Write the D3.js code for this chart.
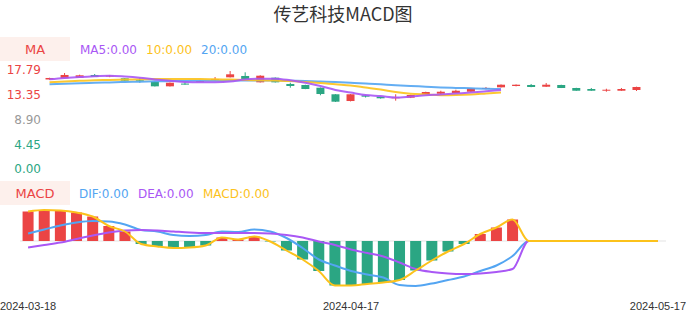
<!DOCTYPE html>
<html>
<head>
<meta charset="utf-8">
<script src="https://cdn.jsdelivr.net/npm/d3@7"></script>
<style>
  body { margin: 0; background: #fff; }
  svg { display: block; font-family: "DejaVu Sans", sans-serif; }
</style>
</head>
<body>
<svg id="chart" width="686" height="320"></svg>
<script>
// Trading days shown on the category axis
const dates = [
  '2024-03-18', '2024-03-19', '2024-03-20', '2024-03-21', '2024-03-22',
  '2024-03-25', '2024-03-26', '2024-03-27', '2024-03-28', '2024-03-29',
  '2024-04-01', '2024-04-02', '2024-04-03', '2024-04-08', '2024-04-09',
  '2024-04-10', '2024-04-11', '2024-04-12', '2024-04-15', '2024-04-16',
  '2024-04-17', '2024-04-18', '2024-04-19', '2024-04-22', '2024-04-23',
  '2024-04-24', '2024-04-25', '2024-04-26', '2024-04-29', '2024-04-30',
  '2024-05-06', '2024-05-07', '2024-05-08', '2024-05-09', '2024-05-10',
  '2024-05-13', '2024-05-14', '2024-05-15', '2024-05-16', '2024-05-17'
];
const xLabels = ['2024-03-18', '2024-04-17', '2024-05-17'];

// Candles
const opens = [16.14, 16.35, 16.46, 16.95, 16.80, 16.35, 16.00, 15.74, 14.91, 15.40,
  15.75, 16.15, 16.53, 16.77, 15.63, 16.46, 15.33, 15.15, 14.66, 13.48,
  12.27, 13.30, 13.05, 12.85, 12.87, 13.53, 13.58, 13.71, 13.94, 14.58,
  14.73, 14.97, 15.15, 14.84, 15.15, 14.61, 14.43, 14.12, 14.12, 14.25];
const closes = [16.41, 16.95, 16.89, 16.59, 16.84, 15.92, 15.95, 14.91, 15.56, 15.35,
  15.85, 16.22, 17.07, 16.23, 16.82, 15.63, 14.97, 14.43, 13.53, 12.15,
  13.48, 13.05, 12.76, 12.94, 13.35, 13.89, 13.94, 14.12, 14.56, 14.62,
  15.20, 15.20, 14.79, 15.20, 14.61, 14.12, 14.12, 14.30, 14.43, 14.79];
const highs = [16.45, 17.30, 17.00, 17.12, 16.95, 16.40, 16.46, 15.78, 15.60, 15.69,
  15.95, 16.58, 17.66, 17.43, 16.90, 16.50, 15.56, 15.20, 14.70, 13.50,
  13.50, 13.40, 13.10, 13.48, 13.40, 13.95, 14.12, 14.30, 14.60, 14.79,
  15.25, 15.25, 15.33, 15.51, 15.20, 14.65, 14.61, 14.48, 14.61, 14.85];
const lows = [16.10, 16.35, 16.46, 16.59, 16.55, 15.90, 15.56, 14.88, 14.88, 15.20,
  15.70, 15.99, 16.50, 16.20, 15.60, 15.60, 14.66, 14.40, 13.30, 12.10,
  12.20, 12.90, 12.70, 12.33, 12.80, 13.50, 13.41, 13.70, 13.90, 14.37,
  14.70, 14.90, 14.75, 14.80, 14.60, 14.10, 14.10, 13.94, 14.10, 14.07];

// Moving averages (only the first 31 days have values)
const ma5 = [16.17, 16.41, 16.59, 16.71, 16.82, 16.68, 16.46, 16.14, 15.92, 15.69,
  15.63, 15.65, 15.78, 16.14, 16.28, 16.28, 15.99, 15.56, 14.97, 14.25,
  13.80, 13.35, 13.17, 12.90, 13.08, 13.30, 13.44, 13.62, 13.80, 14.02, 14.25];
const ma10 = [15.63, 15.78, 15.90, 16.01, 16.05, 16.12, 16.17, 16.23, 16.23, 16.24,
  16.23, 16.17, 16.12, 16.05, 15.99, 15.94, 15.87, 15.69, 15.51, 15.27,
  15.06, 14.70, 14.34, 13.89, 13.58, 13.44, 13.32, 13.35, 13.44, 13.62, 13.80];
const ma20 = [15.27, 15.36, 15.45, 15.54, 15.62, 15.69, 15.74, 15.80, 15.85, 15.88,
  15.90, 15.92, 15.94, 15.96, 15.97, 15.96, 15.92, 15.87, 15.78, 15.69,
  15.56, 15.42, 15.27, 15.11, 14.97, 14.85, 14.72, 14.63, 14.56, 14.48, 14.43];

// MACD
const dif = [0.15, 0.23, 0.31, 0.37, 0.40, 0.39, 0.33, 0.22, 0.19, 0.12,
  0.10, 0.12, 0.19, 0.18, 0.23, 0.19, 0.06, -0.14, -0.37, -0.49,
  -0.60, -0.67, -0.73, -0.88, -0.90, -0.85, -0.78, -0.71, -0.60, -0.49,
  -0.30, 0, 0, 0, 0, 0, 0, 0, 0, 0];
const dea = [-0.13, -0.08, -0.03, 0.04, 0.11, 0.17, 0.21, 0.22, 0.21, 0.19,
  0.17, 0.16, 0.16, 0.16, 0.16, 0.15, 0.12, 0.07, -0.01, -0.08,
  -0.17, -0.24, -0.31, -0.43, -0.56, -0.62, -0.65, -0.66, -0.65, -0.62,
  -0.56, 0, 0, 0, 0, 0, 0, 0, 0, 0];
const macd = [0.59, 0.62, 0.61, 0.57, 0.49, 0.30, 0.19, -0.06, -0.11, -0.14,
  -0.13, -0.09, 0.07, 0.03, 0.09, -0.01, -0.19, -0.37, -0.60, -0.89,
  -0.89, -0.86, -0.83, -0.78, -0.59, -0.39, -0.21, -0.06, 0.14, 0.27,
  0.43, 0, 0, 0, 0, 0, 0, 0, 0, 0];

const priceTicks = [0, 4.45, 8.9, 13.35, 17.79];
const priceTickLabels = ['0.00', '4.45', '8.90', '13.35', '17.79'];

const red = '#eb4444';
const green = '#2ba683';
const purple = '#a957f5';
const gold = '#fcc21b';
const blue = '#53a5f2';

const svg = d3.select('#chart');

// Title
svg.append('text')
  .attr('x', 343).attr('y', 21)
  .attr('text-anchor', 'middle')
  .style('font-family', '"Noto Sans CJK SC", sans-serif')
  .style('font-size', '18px')
  .attr('fill', '#333')
  .text('传艺科技MACD图');

// Legend helper
const legend = (y, title, items) => {
  svg.append('rect').attr('x', 0).attr('y', y - 12).attr('width', 70).attr('height', 24).attr('fill', '#fdf0ec');
  svg.append('text').attr('x', 35).attr('y', y + 5).attr('text-anchor', 'middle')
    .style('font-size', '13px').attr('fill', red).text(title);
  items.forEach(d => {
    svg.append('text').attr('x', d.x).attr('y', y + 5)
      .style('font-size', '12px').attr('fill', d.color).text(d.text);
  });
};

legend(49, 'MA', [
  { x: 80, text: 'MA5:0.00', color: purple },
  { x: 146, text: '10:0.00', color: gold },
  { x: 201, text: '20:0.00', color: blue }
]);
legend(193, 'MACD', [
  { x: 79, text: 'DIF:0.00', color: blue },
  { x: 138, text: 'DEA:0.00', color: purple },
  { x: 203, text: 'MACD:0.00', color: gold }
]);

// ---- Candlestick panel ----
const xTop = d3.scaleBand().domain(dates).range([42, 644]);
const yTop = d3.scaleLinear().domain([0, 17.79]).range([169.3, 70.3]);

// Y axis labels
svg.append('g')
  .selectAll('text')
  .data(priceTicks)
  .enter()
  .append('text')
  .attr('x', 41)
  .attr('y', d => yTop(d) + 4)
  .attr('text-anchor', 'end')
  .style('font-size', '12px')
  .attr('fill', d => d > 8.9 ? red : d < 8.9 ? green : '#999')
  .text((d, i) => priceTickLabels[i]);

const candles = dates.map((d, i) => ({ date: d, o: opens[i], c: closes[i], h: highs[i], l: lows[i] }));
const cx = d => xTop(d) + xTop.bandwidth() / 2;
const bodyW = 8;

const candleG = svg.append('g');
candleG.selectAll('line')
  .data(candles)
  .enter()
  .append('line')
  .attr('x1', d => cx(d.date)).attr('x2', d => cx(d.date))
  .attr('y1', d => yTop(d.h)).attr('y2', d => yTop(d.l))
  .attr('stroke', d => d.c >= d.o ? red : green)
  .attr('stroke-width', 1);

candleG.selectAll('rect')
  .data(candles)
  .enter()
  .append('rect')
  .attr('x', d => cx(d.date) - bodyW / 2)
  .attr('width', bodyW)
  .attr('y', d => yTop(Math.max(d.o, d.c)))
  .attr('height', d => Math.max(1, Math.abs(yTop(d.o) - yTop(d.c))))
  .attr('fill', d => d.c >= d.o ? red : green);

// MA lines
const maLine = d3.line()
  .x((d, i) => cx(dates[i]))
  .y(d => yTop(d))
  .curve(d3.curveMonotoneX);

[[ma20, blue], [ma10, gold], [ma5, purple]].forEach(([values, color]) => {
  svg.append('path')
    .datum(values)
    .attr('d', maLine)
    .attr('fill', 'none')
    .attr('stroke', color)
    .attr('stroke-width', 2)
    .attr('stroke-opacity', 0.9);
});

// ---- MACD panel ----
const xBottom = d3.scaleBand().domain(dates).range([20, 666]);
const yBottom = d3.scaleLinear().domain([-1, 0.7]).range([291, 206]);
const bx = d => xBottom(d) + xBottom.bandwidth() / 2;

// Zero line
svg.append('line')
  .attr('x1', 20).attr('x2', 666)
  .attr('y1', yBottom(0)).attr('y2', yBottom(0))
  .attr('stroke', '#e3e3e3');

// Histogram bars
svg.append('g')
  .selectAll('rect')
  .data(macd.map((v, i) => ({ date: dates[i], v })).filter(d => d.v !== 0))
  .enter()
  .append('rect')
  .attr('x', d => bx(d.date) - 5.5)
  .attr('width', 11)
  .attr('y', d => yBottom(Math.max(0, d.v)))
  .attr('height', d => Math.abs(yBottom(d.v) - yBottom(0)))
  .attr('fill', d => d.v >= 0 ? red : green);

const macdLine = d3.line()
  .x((d, i) => bx(dates[i]))
  .y(d => yBottom(d))
  .curve(d3.curveMonotoneX);

[[dif, blue], [dea, purple], [macd, gold]].forEach(([values, color]) => {
  svg.append('path')
    .datum(values)
    .attr('d', macdLine)
    .attr('fill', 'none')
    .attr('stroke', color)
    .attr('stroke-width', 2);
});

// X axis labels
svg.append('g')
  .selectAll('text')
  .data(xLabels)
  .enter()
  .append('text')
  .attr('x', d => bx(d))
  .attr('y', 310)
  .attr('text-anchor', 'middle')
  .style('font-family', '"Liberation Sans", sans-serif')
  .style('font-size', '11px')
  .attr('fill', '#333')
  .text(d => d);
</script>
</body>
</html>
